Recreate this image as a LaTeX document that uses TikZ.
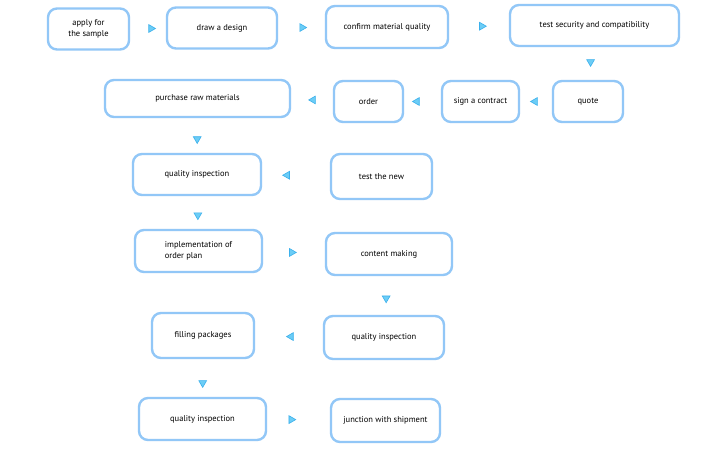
\documentclass[tikz,border=0pt]{standalone}
\usepackage{fontspec}
\setmainfont{PT Sans}
\usetikzlibrary{shapes.geometric}
\definecolor{boxline}{HTML}{92C7F7}
\definecolor{trifill}{HTML}{6CCDF6}
\definecolor{triline}{HTML}{3BB0EC}
\tikzset{
  stepbox/.style={draw=boxline, line width=2.4pt, rounded corners=9pt, fill=white,
    font=\fontsize{8.5}{10.5}\selectfont, inner sep=2pt, align=center},
  tri/.style={regular polygon, regular polygon sides=3, fill=trifill, draw=triline,
    line width=0.6pt, minimum size=9pt, inner sep=0pt},
  triR/.style={tri, rotate=-90},
  triL/.style={tri, rotate=90},
  triD/.style={tri, rotate=180},
}
\begin{document}
\begin{tikzpicture}[x=1pt,y=-1pt]
\useasboundingbox[fill=white] (0,0) rectangle (720,450);
% row 1
\node[stepbox, minimum width=81pt, minimum height=41pt] (apply) at (88.5,29) {apply for\\the sample};
\node[stepbox, minimum width=110pt, minimum height=41pt] (design) at (222,28) {draw a design};
\node[stepbox, minimum width=122pt, minimum height=42pt] (confirm) at (387,27) {confirm material quality};
\node[stepbox, minimum width=169pt, minimum height=41pt] (test) at (594.5,25.5) {test security and compatibility};
% row 2
\node[stepbox, minimum width=70pt, minimum height=41pt] (quote) at (588,101.5) {quote};
\node[stepbox, minimum width=77pt, minimum height=41pt] (sign) at (480.5,101.5) {sign a contract};
\node[stepbox, minimum width=69pt, minimum height=41pt] (order) at (368.5,101.5) {order};
\node[stepbox, minimum width=185pt, minimum height=37pt] (purchase) at (197.5,98.5) {purchase raw materials};
% row 3
\node[stepbox, minimum width=128pt, minimum height=41pt] (qi1) at (197,174.5) {quality inspection};
\node[stepbox, minimum width=101pt, minimum height=45pt] (testnew) at (381.5,176.5) {test the new};
% row 4
\node[stepbox, minimum width=127pt, minimum height=42pt, align=left] (impl) at (198.5,251) {implementation of\\order plan};
\node[stepbox, minimum width=126pt, minimum height=42pt] (content) at (389,254) {content making};
% row 5
\node[stepbox, minimum width=120pt, minimum height=43pt] (qi2) at (384,337.5) {quality inspection};
\node[stepbox, minimum width=102pt, minimum height=45pt] (filling) at (203,335.5) {filling packages};
% row 6
\node[stepbox, minimum width=127pt, minimum height=42pt] (qi3) at (202.5,419) {quality inspection};
\node[stepbox, minimum width=109pt, minimum height=43pt] (junction) at (385.5,420.5) {junction with shipment};
% connectors (triangle markers only)
\path (apply.east) -- (design.west) node[triR, pos=0.5, yshift=3pt] (t1) {};
\path (design.east) -- (confirm.west) node[triR, pos=0.47, yshift=2pt] (t2) {};
\path (confirm.east) -- (test.west) node[triR, pos=0.53, yshift=1pt] (t3) {};
\path (test.south) -- (quote.north) node[triD, pos=0.45, xshift=1pt] (t4) {};
\path (quote.west) -- (sign.east) node[triL, pos=0.53] (t5) {};
\path (sign.west) -- (order.east) node[triL, pos=0.65] (t6) {};
\path (order.west) -- (purchase.east) node[triL, pos=0.52, yshift=-2pt] (t7) {};
\path (purchase.south) -- (qi1.north) node[triD, pos=0.6] (t8) {};
\path (testnew.west) -- (qi1.east) node[triL, pos=0.63] (t9) {};
\path (qi1.south) -- (impl.north) node[triD, pos=0.58] (t10) {};
\path (impl.east) -- (content.west) node[triR, pos=0.48, yshift=-1pt] (t11) {};
\path (content.south) -- (qi2.north) node[triD, pos=0.57] (t12) {};
\path (qi2.west) -- (filling.east) node[triL, pos=0.47] (t13) {};
\path (filling.south) -- (qi3.north) node[triD, pos=0.63] (t14) {};
\path (qi3.east) -- (junction.west) node[triR, pos=0.4, yshift=-1pt] (t15) {};
\end{tikzpicture}
\end{document}
